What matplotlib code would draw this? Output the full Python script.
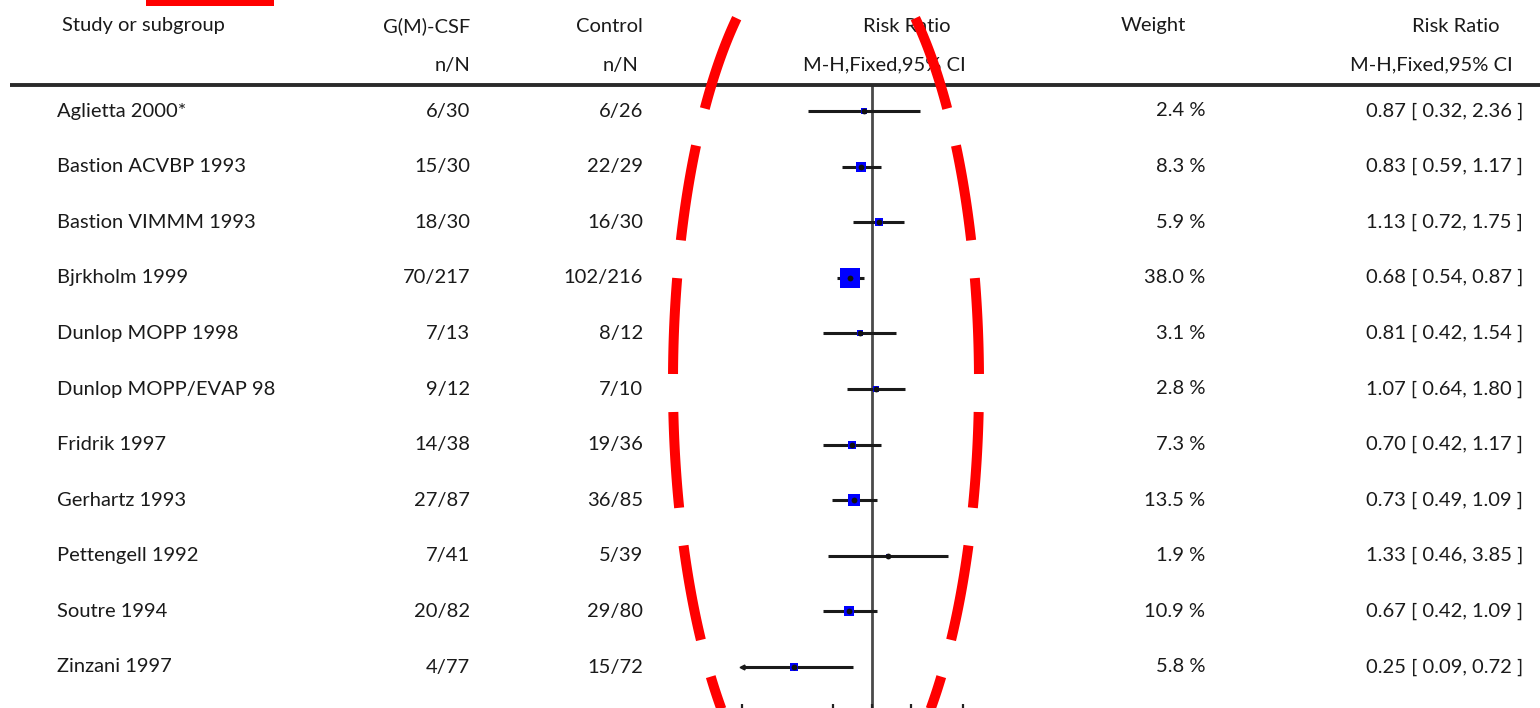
import numpy as np
import matplotlib
matplotlib.use("Agg")
import matplotlib.pyplot as plt
from matplotlib.patches import Rectangle

# ---- data -------------------------------------------------------------
studies = ["Aglietta 2000*", "Bastion ACVBP 1993", "Bastion VIMMM 1993",
           "Bjrkholm 1999", "Dunlop MOPP 1998", "Dunlop MOPP/EVAP 98",
           "Fridrik 1997", "Gerhartz 1993", "Pettengell 1992",
           "Soutre 1994", "Zinzani 1997"]
gcsf_nN = ["6/30", "15/30", "18/30", "70/217", "7/13", "9/12",
           "14/38", "27/87", "7/41", "20/82", "4/77"]
control_nN = ["6/26", "22/29", "16/30", "102/216", "8/12", "7/10",
              "19/36", "36/85", "5/39", "29/80", "15/72"]
weights = [2.4, 8.3, 5.9, 38.0, 3.1, 2.8, 7.3, 13.5, 1.9, 10.9, 5.8]
rr = [0.87, 0.83, 1.13, 0.68, 0.81, 1.07, 0.70, 0.73, 1.33, 0.67, 0.25]
ci_low = [0.32, 0.59, 0.72, 0.54, 0.42, 0.64, 0.42, 0.49, 0.46, 0.42, 0.09]
ci_high = [2.36, 1.17, 1.75, 0.87, 1.54, 1.80, 1.17, 1.09, 3.85, 1.09, 0.72]
axis_ticks = [0.1, 0.5, 1, 2, 5]

# ---- layout -----------------------------------------------------------
W, H = 1540, 708
DPI = 100
FONT = "Lato"
FS = 14.5
TXT = "#1a1a1a"

fig = plt.figure(figsize=(W / DPI, H / DPI), dpi=DPI)
fig.patch.set_facecolor("white")

# background axes in pixel units (origin top-left)
bg = fig.add_axes([0, 0, 1, 1])
bg.set_xlim(0, W)
bg.set_ylim(H, 0)
bg.axis("off")

row_y0, row_dy = 111, 55.6
rows_y = [row_y0 + i * row_dy for i in range(len(studies))]

def txt(x, y, s, ha="left"):
    bg.text(x, y, s, ha=ha, va="center", fontsize=FS, family=FONT, color=TXT)

# column headers
txt(62, 26, "Study or subgroup")
txt(470, 26, "G(M)-CSF", ha="right")
txt(470, 65, "n/N", ha="right")
txt(643, 26, "Control", ha="right")
txt(638, 65, "n/N", ha="right")
txt(907, 26, "Risk Ratio", ha="center")
txt(884, 65, "M-H,Fixed,95% CI", ha="center")
txt(1153, 26, "Weight", ha="center")
txt(1500, 26, "Risk Ratio", ha="right")
txt(1513, 65, "M-H,Fixed,95% CI", ha="right")

# header rule
bg.plot([10, W], [85, 85], color="#2a2a2a", lw=2.8, solid_capstyle="butt")

# table rows
for y, name, g, c, w, r, lo, hi in zip(rows_y, studies, gcsf_nN, control_nN,
                                        weights, rr, ci_low, ci_high):
    txt(57, y, name)
    txt(470, y, g, ha="right")
    txt(643, y, c, ha="right")
    txt(1205, y, f"{w:.1f} %", ha="right")
    txt(1523, y, f"{r:.2f} [ {lo:.2f}, {hi:.2f} ]", ha="right")

# ---- forest panel (log scale) ----------------------------------------
px_one, px_decade = 872, 130.0
left_px, right_px = 672, 1072
ext = 6  # axes extends below the figure so only tick tips show
fx = fig.add_axes([left_px / W, -ext / H, (right_px - left_px) / W, (H + ext) / H])
fx.set_xscale("log")
fx.set_xlim(10 ** ((left_px - px_one) / px_decade), 10 ** ((right_px - px_one) / px_decade))
fx.set_ylim(H + ext, 0)
fx.patch.set_alpha(0)
for side in ("top", "left", "right"):
    fx.spines[side].set_visible(False)
fx.spines["bottom"].set_color("#222")
fx.set_yticks([])
fx.set_xticks(axis_ticks)
fx.xaxis.set_minor_locator(matplotlib.ticker.NullLocator())
fx.tick_params(axis="x", direction="in", length=7, width=1.6, colors="#222",
               labelbottom=False)

# line of no effect
fx.plot([1, 1], [86, H + ext], color="#4a4a4a", lw=2.0, zorder=1)

x_min_plot = axis_ticks[0]
for y, w, r, lo, hi in zip(rows_y, weights, rr, ci_low, ci_high):
    lo_c = max(lo, x_min_plot)
    fx.plot([lo_c, hi], [y, y], color="#1a1a1a", lw=2.2, solid_capstyle="butt", zorder=2)
    if lo < x_min_plot:
        fx.plot([lo_c], [y], marker="<", ms=3.5, color="#1a1a1a", zorder=2)
    side_px = 3.25 * np.sqrt(w)
    fx.scatter([r], [y], marker="s", s=(side_px * 0.72) ** 2, color="#0000ff",
               linewidths=0, zorder=3)
    fx.plot([r], [y], marker="o", ms=4.2, color="#111111", mew=0, zorder=4)

# ---- red annotation overlay ------------------------------------------
bg.add_patch(Rectangle((146, 0), 128, 6, facecolor="#ff0000", edgecolor="none", zorder=10))

# dashed ellipse: two mirrored halves from the top, dashes cut by arc length
cx, cy, a, b = 826, 382, 153, 448
t = np.linspace(0, np.pi, 4000)
hx = a * np.sin(t)
hy = cy - b * np.cos(t)
arc = np.concatenate([[0], np.cumsum(np.hypot(np.diff(hx), np.diff(hy)))])
on_px, off_px = 96.0, 38.0
period = on_px + off_px
anchor = np.interp(412, hy, arc)            # a dash begins at this height
k0 = int(np.floor(-anchor / period)) - 1
k1 = int(np.ceil((arc[-1] - anchor) / period)) + 1
for k in range(k0, k1 + 1):
    s0 = anchor + k * period
    s1 = s0 + on_px
    s0, s1 = max(s0, 0.0), min(s1, arc[-1])
    if s1 <= s0:
        continue
    tt = np.interp(np.linspace(s0, s1, 80), arc, t)
    for sgn in (1, -1):
        bg.plot(cx + sgn * a * np.sin(tt), cy - b * np.cos(tt), color="#ff0000",
                lw=7.2, solid_capstyle="butt", zorder=10)

bg.set_zorder(fx.get_zorder() + 1)
bg.patch.set_alpha(0)

fig.savefig("out.png", dpi=DPI, facecolor="white")
